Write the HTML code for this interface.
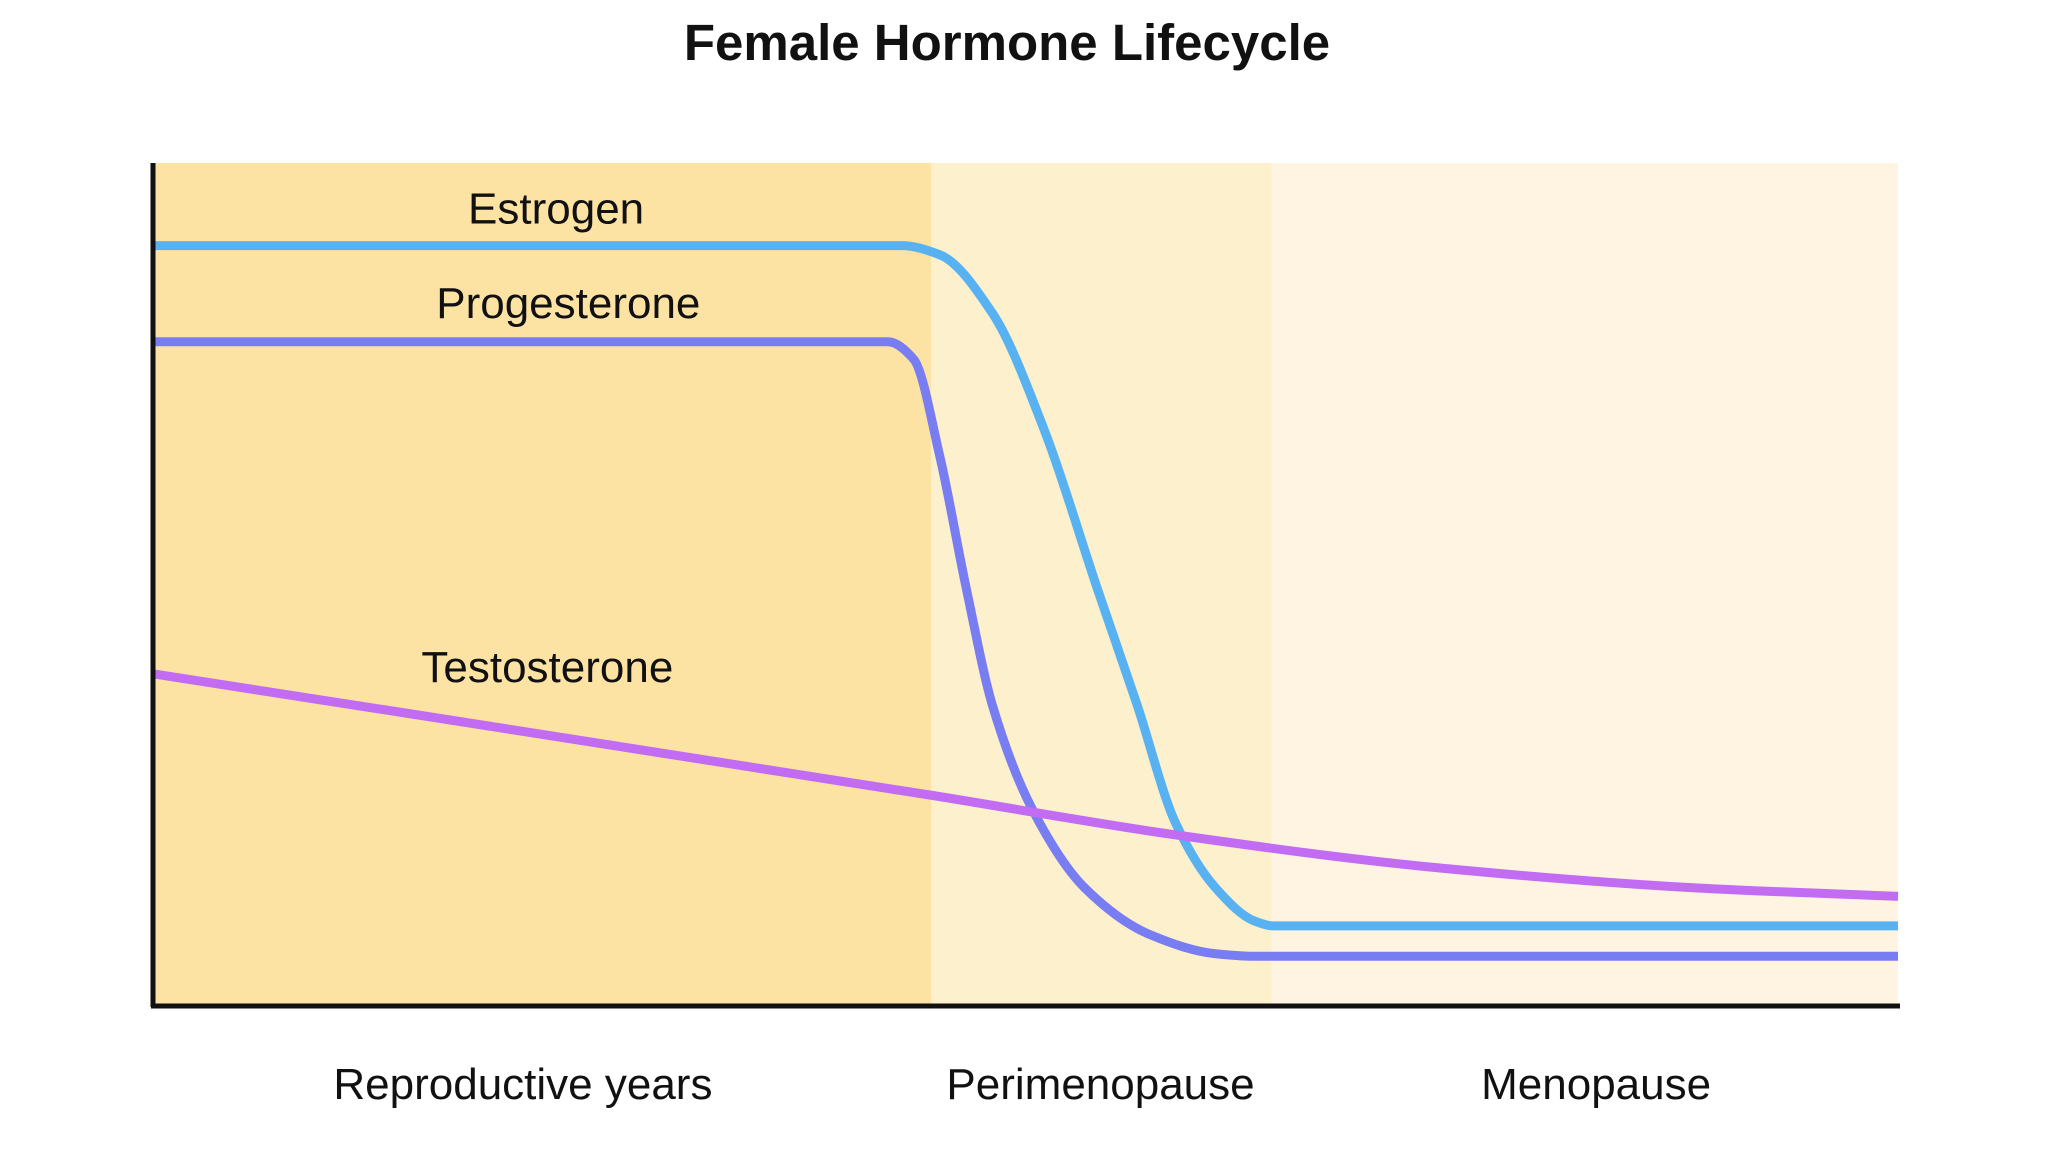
<!DOCTYPE html>
<html><head><meta charset="utf-8"><style>
body{margin:0;background:#fff;}
svg{display:block;font-family:"Liberation Sans",sans-serif;}
</style></head><body>
<svg id="chart" width="2048" height="1152" viewBox="0 0 2048 1152">
<text x="1007" y="60" text-anchor="middle" font-size="51" font-weight="bold" fill="#111">Female Hormone Lifecycle</text>
<g id="regions"></g>
<g id="lines"></g>
<g id="labels"></g>
<line x1="153" y1="163" x2="153" y2="1007" stroke="#111" stroke-width="5"/>
<line x1="151" y1="1006" x2="1900" y2="1006" stroke="#111" stroke-width="5"/>
</svg>
<script>
const phaseNames=["Reproductive years","Perimenopause","Menopause"];
const phaseStart=[0,44.6,64.1];
const phaseEnd=[44.6,64.1,100];
const phaseLabelX=[21.2,54.3,82.7];
const phaseColors=["#fde3a3","#fdf0cd","#fef4e1"];
const seriesNames=["Estrogen","Progesterone","Testosterone"];
const seriesColors=["#58b2f2","#787ef2","#c26cf4"];
const estrogenX=[0,42.9,45.1,48.1,51.1,54.1,56.4,58.6,60.9,63.1,64.2,100];
const estrogenY=[90.2,90.2,89.1,82.2,68.2,49.6,35.7,21.7,14.0,10.1,9.5,9.5];
const progX=[0,42.1,43.6,45.1,46.6,48.1,50.4,53.4,57.1,60.9,63.1,100];
const progY=[78.8,78.8,76.7,65.1,49.6,35.7,23.3,14.0,8.5,6.2,5.9,5.9];
const testX=[0,44.6,58.6,73.6,88.5,100];
const testY=[39.4,25.0,20.3,16.4,14.0,13.0];
const labelX=[23.1,23.8,22.6];
const labelLevel=[94.6,83.4,40.2];

const X0=153,X1=1898,Y0=1006,Y1=163;
const xs=v=>X0+(X1-X0)*v/100;
const ys=v=>Y0-(Y0-Y1)*v/100;
const NS="http://www.w3.org/2000/svg";
const reg=document.getElementById('regions'),lines=document.getElementById('lines'),labels=document.getElementById('labels');
phaseNames.forEach((n,i)=>{
  const r=document.createElementNS(NS,'rect');
  r.setAttribute('x',xs(phaseStart[i]));r.setAttribute('y',Y1);
  r.setAttribute('width',xs(phaseEnd[i])-xs(phaseStart[i]));r.setAttribute('height',Y0-Y1);
  r.setAttribute('fill',phaseColors[i]);
  
  
  reg.appendChild(r);
  const t=document.createElementNS(NS,'text');
  t.setAttribute('x',xs(phaseLabelX[i]));t.setAttribute('y',1099);
  t.setAttribute('text-anchor','middle');t.setAttribute('font-size','44');t.setAttribute('fill','#111');
  t.textContent=n;
  
  
  labels.appendChild(t);
});
function path(xa,ya){
  const n=xa.length,px=xa.map(xs),py=ya.map(ys);
  const d=[],m=[];
  for(let i=0;i<n-1;i++)d.push((py[i+1]-py[i])/(px[i+1]-px[i]));
  m[0]=d[0];m[n-1]=d[n-2];
  for(let i=1;i<n-1;i++){
    if(d[i-1]*d[i]<=0){m[i]=0;continue;}
    const h0=px[i]-px[i-1],h1=px[i+1]-px[i];
    const w1=2*h1+h0,w2=h1+2*h0;
    m[i]=(w1+w2)/(w1/d[i-1]+w2/d[i]);
  }
  let s='M'+px[0]+','+py[0];
  for(let i=0;i<n-1;i++){
    const h=(px[i+1]-px[i])/3;
    s+=' C'+(px[i]+h)+','+(py[i]+m[i]*h)+' '+(px[i+1]-h)+','+(py[i+1]-m[i+1]*h)+' '+px[i+1]+','+py[i+1];
  }
  return s;
}
const xsArr=[estrogenX,progX,testX],ysArr=[estrogenY,progY,testY];
seriesNames.forEach((n,i)=>{
  const p=document.createElementNS(NS,'path');
  p.setAttribute('d',path(xsArr[i],ysArr[i]));
  p.setAttribute('fill','none');p.setAttribute('stroke',seriesColors[i]);p.setAttribute('stroke-width','9');
  p.setAttribute('stroke-linejoin','round');
  
  
  lines.appendChild(p);
  const t=document.createElementNS(NS,'text');
  t.setAttribute('x',xs(labelX[i]));t.setAttribute('y',ys(labelLevel[i])+15);
  t.setAttribute('text-anchor','middle');t.setAttribute('font-size','44');t.setAttribute('fill','#111');
  t.textContent=n;
  
  
  labels.appendChild(t);
});
</script>
</body></html>
